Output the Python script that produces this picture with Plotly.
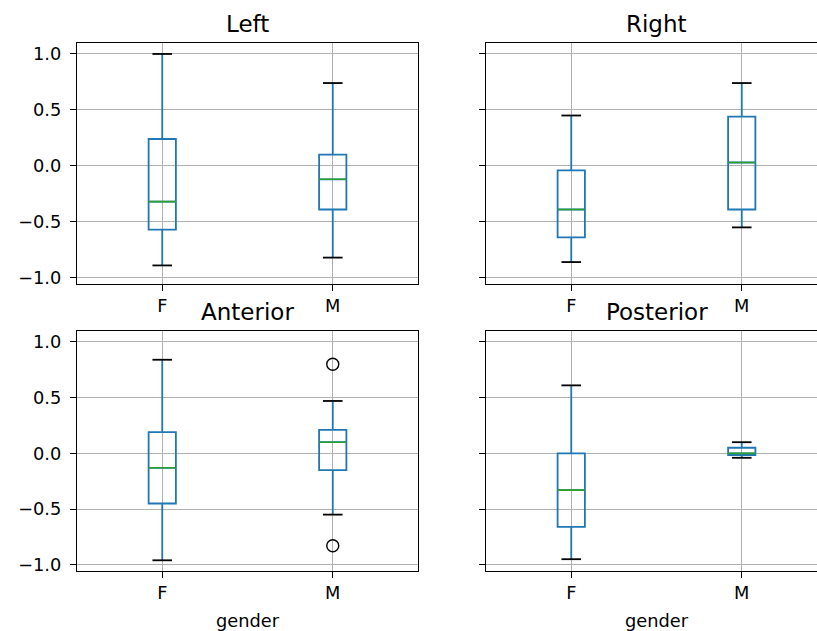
import plotly.graph_objects as go

# ---- data ----
categories = ["F", "M"]
panels = ["Left", "Right", "Anterior", "Posterior"]
whisker_low = [[-0.89, -0.82], [-0.86, -0.55], [-0.96, -0.55], [-0.95, -0.04]]
q1 = [[-0.57, -0.39], [-0.64, -0.39], [-0.45, -0.15], [-0.66, -0.015]]
median = [[-0.32, -0.12], [-0.39, 0.03], [-0.13, 0.10], [-0.33, 0.0]]
q3 = [[0.24, 0.10], [-0.04, 0.44], [0.19, 0.21], [0.0, 0.05]]
whisker_high = [[1.0, 0.74], [0.45, 0.74], [0.84, 0.47], [0.61, 0.10]]
outlier_panel = [2, 2]
outlier_category = ["M", "M"]
outlier_value = [0.80, -0.83]
x_label = "gender"
y_ticks = [-1.0, -0.5, 0.0, 0.5, 1.0]

# ---- style ----
FONT = "DejaVu Sans"
BLUE = "#1f77b4"
GREEN = "#2ca02c"
GRID = "#b0b0b0"
W, H = 817, 631
BOX_W = 0.16
TICK_FS = 17.8
TITLE_FS = 23

# axes rectangles in pixels: (left, top, right, bottom)
rects = [(77, 43, 418, 284), (486, 43, 817, 284),
         (77, 331, 418, 571), (486, 331, 817, 571)]
px_per_unit = 341 / 2.0

positions = [i + 1 for i in range(len(categories))]

fig = go.Figure()
layout_axes = {}
annotations = []

for p, name in enumerate(panels):
    sfx = "" if p == 0 else str(p + 1)
    xa, ya = "x" + sfx, "y" + sfx
    # box + whiskers
    fig.add_trace(go.Box(
        x=positions, q1=q1[p], median=median[p], q3=q3[p],
        lowerfence=whisker_low[p], upperfence=whisker_high[p],
        width=BOX_W, whiskerwidth=0, boxpoints=False,
        line=dict(color=BLUE, width=1.8), fillcolor="rgba(0,0,0,0)",
        xaxis=xa, yaxis=ya, showlegend=False, hoverinfo="skip"))
    # median line (green)
    fig.add_trace(go.Box(
        x=positions, q1=median[p], median=median[p], q3=median[p],
        lowerfence=median[p], upperfence=median[p],
        width=BOX_W, whiskerwidth=0, boxpoints=False,
        line=dict(color=GREEN, width=1.6), fillcolor="rgba(0,0,0,0)",
        xaxis=xa, yaxis=ya, showlegend=False, hoverinfo="skip"))
    # caps (black)
    fig.add_trace(go.Scatter(
        x=positions + positions, y=whisker_low[p] + whisker_high[p],
        mode="markers",
        marker=dict(symbol="line-ew", size=14, line=dict(color="black", width=1.8)),
        xaxis=xa, yaxis=ya, showlegend=False, hoverinfo="skip"))
    # outliers
    ox = [categories.index(c) + 1 for pp, c in zip(outlier_panel, outlier_category) if pp == p]
    oy = [v for pp, v in zip(outlier_panel, outlier_value) if pp == p]
    if ox:
        fig.add_trace(go.Scatter(
            x=ox, y=oy, mode="markers",
            marker=dict(symbol="circle-open", size=12, color="black",
                        line=dict(color="black", width=1.4)),
            xaxis=xa, yaxis=ya, showlegend=False, hoverinfo="skip"))

    l, t, r, b = rects[p]
    col = p % 2
    row = p // 2
    x_hi = 0.5 + (r - l) / px_per_unit
    layout_axes["xaxis" + sfx] = dict(
        domain=[l / W, r / W], anchor=ya, range=[0.5, x_hi], automargin=False,
        tickmode="array", tickvals=positions, ticktext=categories,
        showgrid=True, gridcolor=GRID, gridwidth=1, zeroline=False,
        showline=True, linecolor="black", linewidth=1.2, mirror=True,
        ticks="outside", ticklen=6, tickwidth=1.2, tickcolor="black",
        tickfont=dict(family=FONT, size=TICK_FS, color="black"),
    )
    layout_axes["yaxis" + sfx] = dict(
        domain=[1 - b / H, 1 - t / H], anchor=xa, range=[-1.056, 1.098],
        automargin=False,
        tickmode="array", tickvals=y_ticks, tickformat=".1f",
        showticklabels=(col == 0), ticklabelstandoff=5,
        showgrid=True, gridcolor=GRID, gridwidth=1, zeroline=False,
        showline=True, linecolor="black", linewidth=1.2, mirror=(col == 0),
        ticks="outside", ticklen=6, tickwidth=1.2, tickcolor="black",
        tickfont=dict(family=FONT, size=TICK_FS, color="black"),
    )
    cx = (l + (l + 341)) / 2.0
    annotations.append(dict(
        text=name, x=cx / W, y=1 - t / H, xref="paper", yref="paper",
        xanchor="center", yanchor="bottom", yshift=4, showarrow=False,
        font=dict(family=FONT, size=TITLE_FS, color="black")))
    if row == 1:
        annotations.append(dict(
            text=x_label, x=cx / W, y=1 - 620 / H, xref="paper", yref="paper",
            xanchor="center", yanchor="middle", showarrow=False,
            font=dict(family=FONT, size=TICK_FS, color="black")))

fig.update_layout(
    width=W, height=H, margin=dict(l=0, r=0, t=0, b=0, autoexpand=False),
    paper_bgcolor="white", plot_bgcolor="white",
    boxmode="overlay", showlegend=False,
    annotations=annotations,
    font=dict(family=FONT, color="black"),
    **layout_axes,
)

fig.write_html("out.html", config={"displayModeBar": False},
               post_script="document.body.style.margin='0';document.body.style.overflow='hidden';")
